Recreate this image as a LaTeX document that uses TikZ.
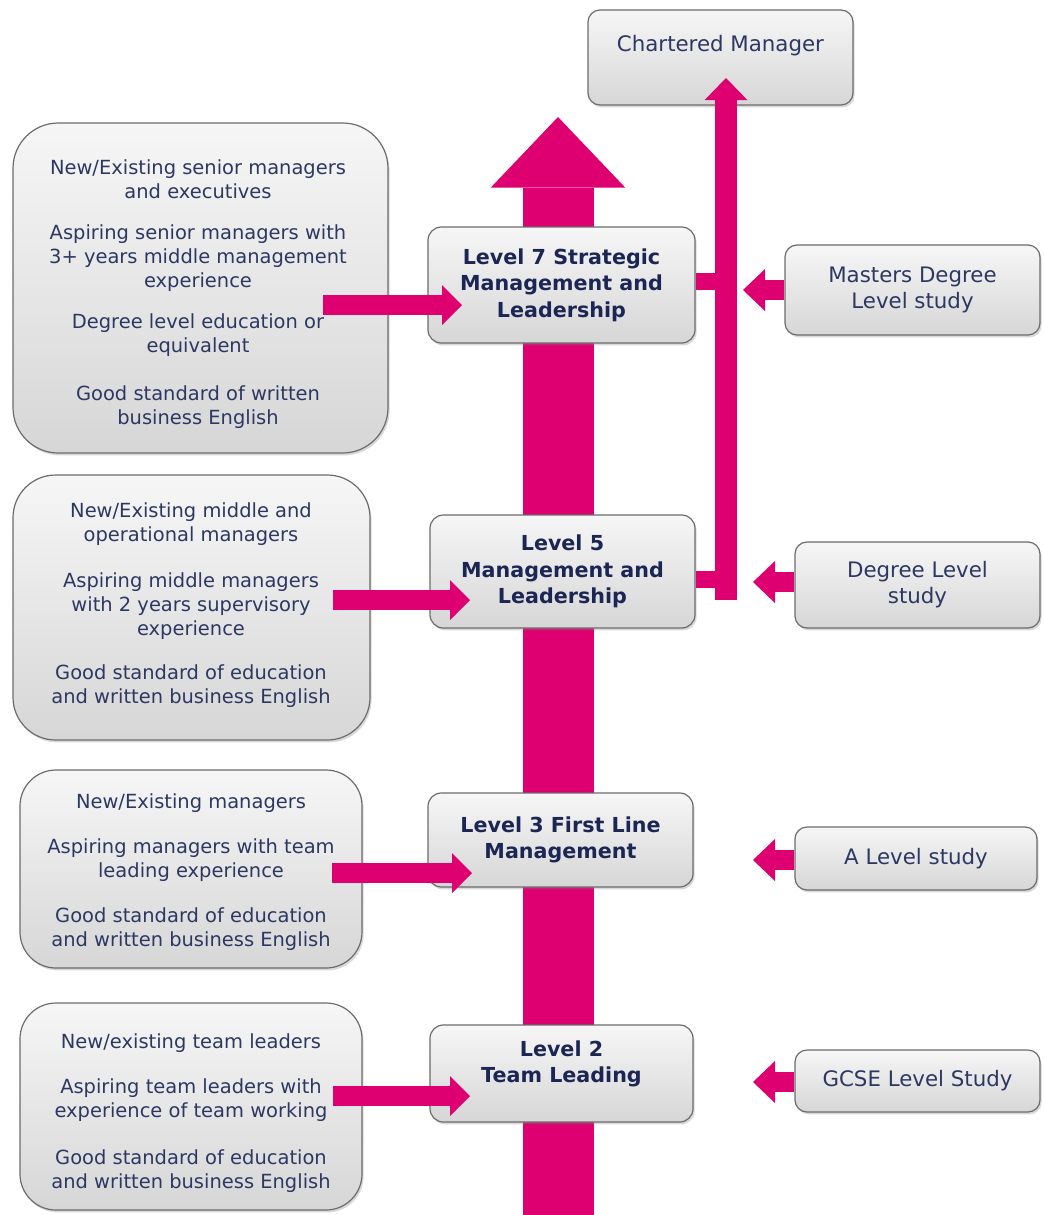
\documentclass[tikz,border=0pt]{standalone}
\usepackage{fontspec}
\setmainfont{DejaVu Sans}
\usetikzlibrary{arrows.meta,shadows}
\definecolor{pinkc}{RGB}{222,0,112}
\definecolor{txt}{RGB}{45,56,98}
\definecolor{btxt}{RGB}{28,38,84}
\definecolor{bord}{RGB}{108,108,108}
\begin{document}
\begin{tikzpicture}[x=0.75pt,y=-0.75pt,
  box/.style={draw=bord, line width=0.9pt, top color=gray!7, bottom color=gray!32,
    drop shadow={opacity=0.3,shadow xshift=1.2pt,shadow yshift=-1.8pt},
    inner sep=0pt, align=center},
  lbox/.style={box, rounded corners=32pt, text=txt, font=\fontsize{14.6}{18}\selectfont},
  ltext/.style={text=txt, font=\fontsize{14.6}{18}\selectfont, align=center, inner sep=0pt},
  cbox/.style={box, rounded corners=10pt, text=btxt, font=\fontsize{15.5}{20}\selectfont\bfseries},
  rbox/.style={box, rounded corners=9pt, text=txt, font=\fontsize{16}{19.5}\selectfont},
  rtext/.style={text=txt, font=\fontsize{16}{19.5}\selectfont, inner sep=0pt},
  spine/.style={draw=pinkc, line width=53.25pt, -{Triangle[length=53pt,width=101pt,line width=0pt]}},
  inarrow/.style={draw=pinkc, line width=15pt, -{Triangle[length=15pt,width=30pt,line width=0pt]}},
  studyarrow/.style={draw=pinkc, line width=15pt, -{Triangle[length=16.5pt,width=31.5pt,line width=0pt]}},
  cmarrow/.style={draw=pinkc, line width=16.5pt, -{Triangle[length=16.5pt,width=32pt,line width=0pt]}},
  stub/.style={draw=pinkc, line width=12.75pt}
]
\fill[white] (0,0) rectangle (1044,1215);
\useasboundingbox (0,0) rectangle (1044,1215);

% spine arrow
\coordinate (sb) at (558,1215);
\coordinate (st) at (558,117);
\draw[spine] (sb) -- (st);

% Chartered manager
\node (cm) [rbox, minimum width=265*0.75pt, minimum height=95*0.75pt] at (720.5,57.5) {};
\node (cmt) [rtext] at (720.5,46) {Chartered Manager};

% center boxes
\node (L7) [cbox, minimum width=267*0.75pt, minimum height=116*0.75pt] at (561.5,285)
  {Level 7 Strategic\\Management and\\Leadership};
\node (L5) [cbox, minimum width=265*0.75pt, minimum height=113*0.75pt] at (562.5,571.5)
  {Level 5\\Management and\\Leadership};
\node (L3) [cbox, minimum width=265*0.75pt, minimum height=94*0.75pt] at (560.5,840)
  {Level 3 First Line\\Management};
\node (L2) [cbox, minimum width=263*0.75pt, minimum height=97*0.75pt] at (561.5,1073.5) {};
\node (L2t) [text=btxt, font=\fontsize{15.5}{20}\selectfont\bfseries, align=center, inner sep=0pt]
  at (561.5,1064) {Level 2\\Team Leading};

% left boxes
\node (A) [lbox, rounded corners=34pt, minimum width=375*0.75pt, minimum height=330*0.75pt] at (200.5,288) {};
\node (At) [ltext] at (198,294)
  {New/Existing senior managers\\and executives\\[13pt]Aspiring senior managers with\\3+ years middle management\\experience\\[13pt]Degree level education or\\equivalent\\[18pt]Good standard of written\\business English};
\node (B) [lbox, minimum width=357*0.75pt, minimum height=265*0.75pt] at (191.5,607.5) {};
\node (Bt) [ltext] at (191,605)
  {New/Existing middle and\\operational managers\\[16pt]Aspiring middle managers\\with 2 years supervisory\\experience\\[15pt]Good standard of education\\and written business English};
\node (C) [lbox, rounded corners=27pt, minimum width=342*0.75pt, minimum height=198*0.75pt] at (191,869) {};
\node (Ct) [ltext] at (191,872)
  {New/Existing managers\\[16pt]Aspiring managers with team\\leading experience\\[16pt]Good standard of education\\and written business English};
\node (D) [lbox, rounded corners=27pt, minimum width=342*0.75pt, minimum height=207*0.75pt] at (191,1106.5) {};
\node (Dt) [ltext] at (191,1113)
  {New/existing team leaders\\[16pt]Aspiring team leaders with\\experience of team working\\[17pt]Good standard of education\\and written business English};

% right boxes
\node (M) [rbox, minimum width=255*0.75pt, minimum height=90*0.75pt] at (912.5,290)
  {Masters Degree\\Level study};
\node (DG) [rbox, minimum width=245*0.75pt, minimum height=86*0.75pt] at (917.5,585)
  {Degree Level\\study};
\node (AL) [rbox, minimum width=242*0.75pt, minimum height=63*0.75pt] at (916,858.5)
  {A Level study};
\node (G) [rbox, minimum width=245*0.75pt, minimum height=62*0.75pt] at (917.5,1081)
  {GCSE Level Study};

% arrows from left boxes into level boxes
\coordinate (a7s) at (323,305);  \coordinate (a7t) at (462,305);
\coordinate (a5s) at (333,600);  \coordinate (a5t) at (470,600);
\coordinate (a3s) at (332,873);  \coordinate (a3t) at (472,873);
\coordinate (a2s) at (333,1096); \coordinate (a2t) at (470,1096);
\draw[inarrow] (a7s) -- (a7t);
\draw[inarrow] (a5s) -- (a5t);
\draw[inarrow] (a3s) -- (a3t);
\draw[inarrow] (a2s) -- (a2t);

% route to Chartered Manager
\coordinate (vb) at (726,600);
\coordinate (vt) at (726,78);
\coordinate (v7) at (726,281);
\coordinate (v5) at (726,579);
\draw[stub] (L7.east |- v7) -- (v7);
\draw[stub] (L5.east |- v5) -- (v5);
\draw[cmarrow] (vb) -- (vt);

% arrows from study boxes
\coordinate (mt) at (743,290);
\coordinate (dt) at (753,582);
\coordinate (at) at (753,860);
\coordinate (gt) at (753,1082);
\draw[studyarrow] (M.west |- mt) -- (mt);
\draw[studyarrow] (DG.west |- dt) -- (dt);
\draw[studyarrow] (AL.west |- at) -- (at);
\draw[studyarrow] (G.west |- gt) -- (gt);
\end{tikzpicture}
\end{document}
